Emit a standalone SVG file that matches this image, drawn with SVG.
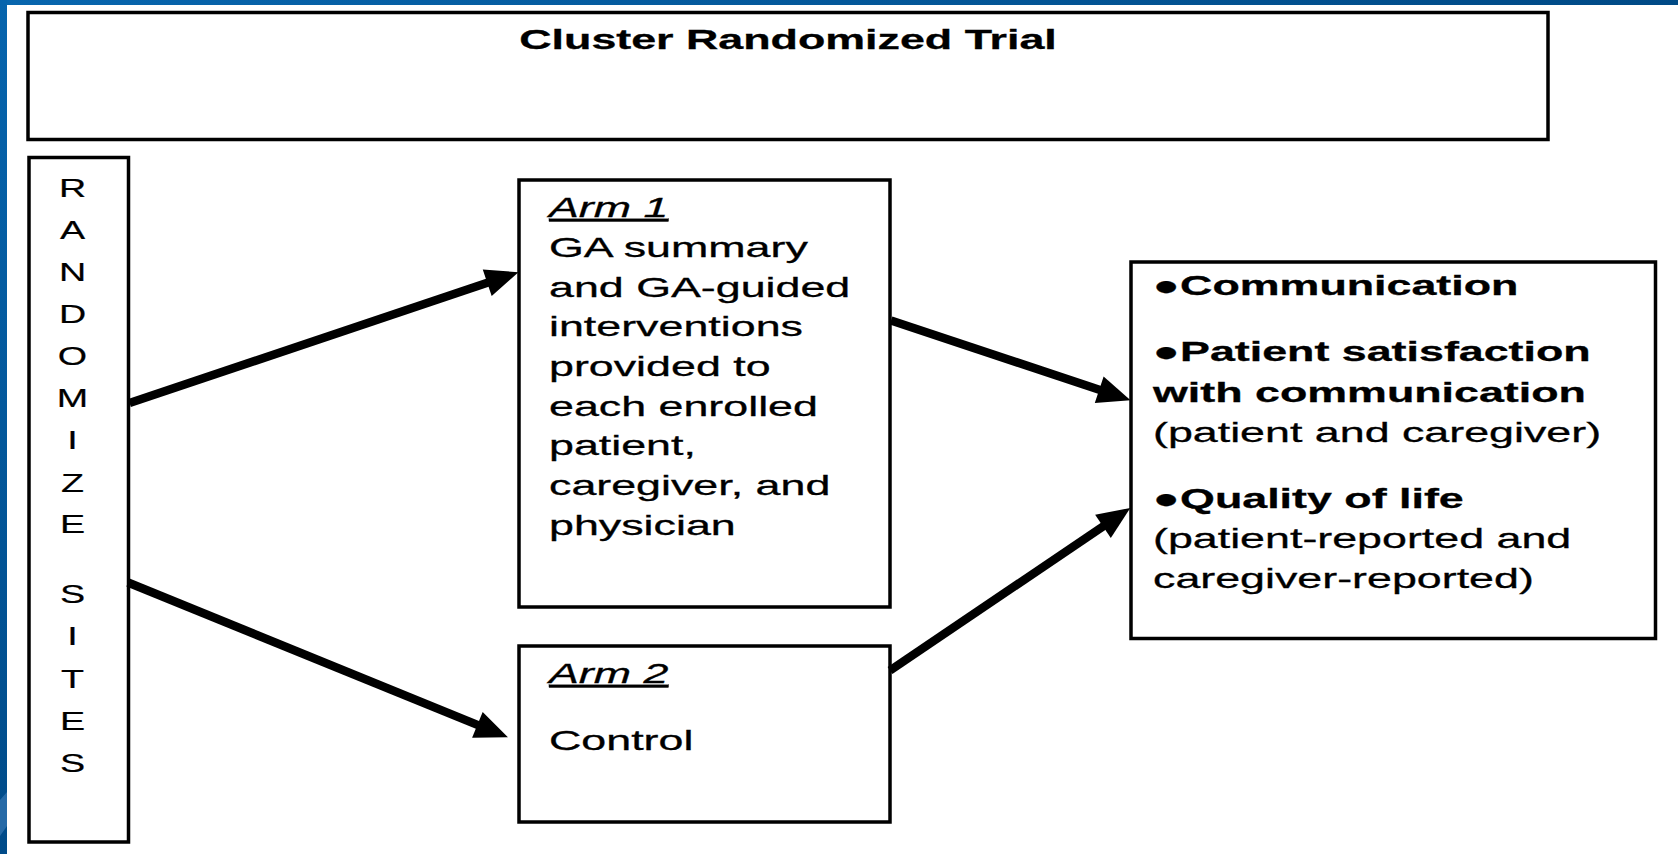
<svg xmlns="http://www.w3.org/2000/svg" width="1678" height="854" viewBox="0 0 1678 854">
  <style>
    .box { fill: #ffffff; stroke: #000000; stroke-width: 3.5; }
    .t { font-family: "Liberation Sans", Arial, sans-serif; font-size: 28px; fill: #000000; stroke: #000000; stroke-width: 0.3; }
    .b { font-weight: bold; stroke-width: 0.3; }
    .i { font-style: italic; text-decoration: underline; }
    .letters { font-family: "Liberation Sans", Arial, sans-serif; font-size: 26px; fill: #000000; stroke: #000000; stroke-width: 0.2; text-anchor: middle; }
    .conn { stroke: #000000; stroke-width: 8.5; fill: none; marker-end: url(#head); }
  </style>
  <defs>
    <marker id="head" markerUnits="userSpaceOnUse" markerWidth="34" markerHeight="28" refX="8" refY="14" orient="auto" overflow="visible">
      <path d="M0,0 L33,14 L0,28 Z" fill="#000000"/>
    </marker>
    <linearGradient id="topBand" x1="0" y1="0" x2="1" y2="0">
      <stop offset="0" stop-color="#0866ae"/>
      <stop offset="1" stop-color="#004a86"/>
    </linearGradient>
    <linearGradient id="leftBand" x1="0" y1="0" x2="0" y2="1">
      <stop offset="0" stop-color="#0664ad"/>
      <stop offset="1" stop-color="#004b89"/>
    </linearGradient>
  </defs>

  <rect x="0" y="0" width="1678" height="854" fill="#ffffff"/>
  <g id="frame">
    <rect x="0" y="0" width="1678" height="5" fill="url(#topBand)"/>
    <rect x="0" y="0" width="7" height="854" fill="url(#leftBand)"/>
    <polygon points="0,800 7,792 7,826 0,836" fill="#3f7fbb" opacity="0.6"/>
  </g>

  <g id="title">
    <rect class="box" x="28" y="12.5" width="1520" height="127"/>
    <g transform="translate(788,0) scale(1.6,1)">
      <text class="t b" x="0" y="48.7" text-anchor="middle">Cluster Randomized Trial</text>
    </g>
  </g>

  <g id="randomize">
    <rect class="box" x="29" y="157.5" width="99.5" height="684.5"/>
    <g transform="translate(72.5,0) scale(1.45,1)">
      <text class="letters" x="0" y="196.7">R</text>
      <text class="letters" x="0" y="239.3">A</text>
      <text class="letters" x="0" y="280.7">N</text>
      <text class="letters" x="0" y="322.7">D</text>
      <text class="letters" x="0" y="365">O</text>
      <text class="letters" x="0" y="407.3">M</text>
      <text class="letters" x="0" y="449">I</text>
      <text class="letters" x="0" y="491.7">Z</text>
      <text class="letters" x="0" y="533.3">E</text>
      <text class="letters" x="0" y="603.3">S</text>
      <text class="letters" x="0" y="645">I</text>
      <text class="letters" x="0" y="688.3">T</text>
      <text class="letters" x="0" y="730">E</text>
      <text class="letters" x="0" y="771.7">S</text>
    </g>
  </g>

  <g id="arm1">
    <rect class="box" x="519" y="180" width="371" height="427"/>
    <g transform="translate(549,0) scale(1.6,1)">
      <text class="t i" x="0" y="217.3">Arm 1</text>
      <text class="t" x="0" y="257">GA summary</text>
      <text class="t" x="0" y="296.7">and GA-guided</text>
      <text class="t" x="0" y="336.4">interventions</text>
      <text class="t" x="0" y="376.1">provided to</text>
      <text class="t" x="0" y="415.8">each enrolled</text>
      <text class="t" x="0" y="455.5">patient,</text>
      <text class="t" x="0" y="495.2">caregiver, and</text>
      <text class="t" x="0" y="534.9">physician</text>
    </g>
  </g>

  <g id="arm2">
    <rect class="box" x="519" y="646" width="371" height="176"/>
    <g transform="translate(549,0) scale(1.6,1)">
      <text class="t i" x="0" y="683.3">Arm 2</text>
      <text class="t" x="0" y="750">Control</text>
    </g>
  </g>

  <g id="outcomes">
    <rect class="box" x="1131" y="262" width="524.5" height="376.5"/>
    <g transform="translate(1153,0) scale(1.6,1)">
      <text class="t b" x="0" y="295">●Communication</text>
      <text class="t b" x="0" y="361">●Patient satisfaction</text>
      <text class="t b" x="0" y="401.7">with communication</text>
      <text class="t" x="0" y="441.7">(patient and caregiver)</text>
      <text class="t b" x="0" y="508.3">●Quality of life</text>
      <text class="t" x="0" y="548.3">(patient-reported and</text>
      <text class="t" x="0" y="588.3">caregiver-reported)</text>
    </g>
  </g>

  <g id="connectors">
    <line class="conn" x1="129.5" y1="403" x2="494.8" y2="280.2"/>
    <line class="conn" x1="128" y1="582.5" x2="484.8" y2="727.9"/>
    <line class="conn" x1="891" y1="320.5" x2="1106.8" y2="392.3"/>
    <line class="conn" x1="890" y1="670.5" x2="1109.6" y2="521.95"/>
  </g>
</svg>
